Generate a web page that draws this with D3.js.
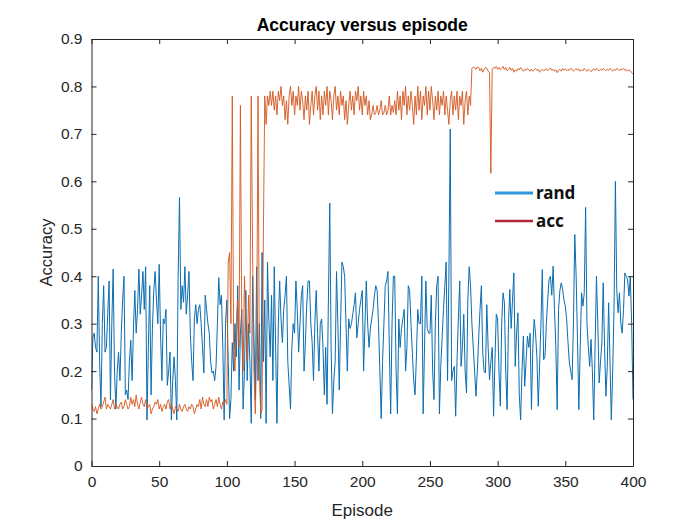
<!DOCTYPE html>
<html>
<head>
<meta charset="utf-8">
<script src="https://cdn.jsdelivr.net/npm/d3@7/dist/d3.min.js"></script>
<style>
  html, body { margin: 0; padding: 0; background: #fff; }
  svg { display: block; }
</style>
</head>
<body>
<svg id="chart" width="700" height="525"></svg>
<script>
// ---------- DATA ----------
const title = "Accuracy versus episode";
const xLabel = "Episode";
const yLabel = "Accuracy";
const xTicks = [0, 50, 100, 150, 200, 250, 300, 350, 400];
const yTicks = [0, 0.1, 0.2, 0.3, 0.4, 0.5, 0.6, 0.7, 0.8, 0.9];
const seriesNames = ["rand", "acc"];

// rand: one value per episode 0..400
const randValues = [
  0.16,0.27,0.28,0.25,0.24,0.40,0.22,0.125,0.30,0.38,
  0.24,0.25,0.32,0.39,0.14,0.30,0.415,0.20,0.12,0.20,
  0.24,0.18,0.28,0.35,0.40,0.15,0.16,0.14,0.22,0.265,
  0.18,0.29,0.37,0.28,0.33,0.415,0.32,0.36,0.41,0.33,
  0.42,0.097,0.25,0.38,0.15,0.29,0.37,0.41,0.35,0.30,
  0.425,0.28,0.18,0.31,0.30,0.33,0.17,0.20,0.24,0.097,
  0.18,0.23,0.18,0.097,0.40,0.566,0.33,0.38,0.345,0.42,
  0.32,0.36,0.41,0.28,0.22,0.18,0.31,0.34,0.30,0.33,
  0.34,0.30,0.25,0.196,0.36,0.33,0.30,0.28,0.22,0.196,
  0.20,0.18,0.21,0.30,0.397,0.34,0.36,0.25,0.097,0.30,
  0.35,0.22,0.10,0.14,0.26,0.20,0.30,0.23,0.38,0.16,
  0.28,0.33,0.12,0.20,0.37,0.18,0.30,0.22,0.09,0.40,
  0.27,0.14,0.42,0.18,0.30,0.10,0.45,0.22,0.35,0.09,
  0.43,0.31,0.23,0.36,0.18,0.42,0.25,0.09,0.30,0.39,
  0.31,0.26,0.33,0.36,0.40,0.22,0.17,0.12,0.25,0.30,
  0.28,0.39,0.33,0.24,0.30,0.36,0.38,0.20,0.26,0.34,
  0.39,0.39,0.30,0.26,0.18,0.30,0.37,0.28,0.20,0.30,
  0.31,0.25,0.15,0.25,0.13,0.35,0.554,0.25,0.11,0.18,
  0.22,0.41,0.30,0.16,0.30,0.43,0.42,0.40,0.30,0.20,
  0.31,0.29,0.30,0.32,0.34,0.365,0.27,0.30,0.33,0.35,
  0.37,0.20,0.30,0.39,0.30,0.25,0.29,0.31,0.33,0.36,
  0.38,0.37,0.30,0.20,0.10,0.22,0.30,0.38,0.39,0.41,
  0.25,0.11,0.30,0.40,0.40,0.20,0.11,0.31,0.25,0.29,
  0.31,0.33,0.20,0.25,0.38,0.37,0.30,0.24,0.18,0.15,
  0.23,0.33,0.30,0.30,0.40,0.11,0.25,0.39,0.29,0.28,
  0.28,0.36,0.20,0.14,0.30,0.38,0.40,0.11,0.21,0.27,
  0.33,0.38,0.43,0.18,0.40,0.71,0.18,0.20,0.21,0.105,
  0.22,0.31,0.39,0.21,0.25,0.32,0.20,0.154,0.35,0.42,
  0.38,0.30,0.25,0.20,0.147,0.20,0.27,0.33,0.38,0.24,
  0.20,0.196,0.34,0.25,0.182,0.22,0.25,0.105,0.22,0.32,
  0.31,0.20,0.126,0.30,0.365,0.344,0.20,0.119,0.30,0.372,
  0.29,0.35,0.407,0.21,0.28,0.323,0.15,0.097,0.20,0.274,
  0.168,0.22,0.274,0.25,0.28,0.119,0.25,0.309,0.28,0.231,
  0.126,0.21,0.30,0.414,0.224,0.231,0.30,0.351,0.393,0.40,
  0.36,0.421,0.33,0.25,0.119,0.33,0.37,0.386,0.372,0.35,
  0.337,0.309,0.26,0.217,0.20,0.182,0.30,0.488,0.40,0.267,
  0.119,0.25,0.365,0.337,0.365,0.545,0.30,0.252,0.21,0.267,
  0.20,0.097,0.252,0.40,0.30,0.175,0.22,0.259,0.386,0.25,
  0.147,0.21,0.344,0.22,0.097,0.20,0.337,0.60,0.372,0.323,
  0.365,0.30,0.28,0.33,0.407,0.40,0.393,0.358,0.40,0.30,
  0.14
];

// acc: one value per episode 0..400
const accValues = [
  0.13,0.12,0.115,0.125,0.11,0.12,0.13,0.12,0.125,0.135,
  0.145,0.12,0.13,0.125,0.12,0.13,0.14,0.12,0.13,0.125,
  0.12,0.13,0.135,0.12,0.125,0.14,0.13,0.12,0.125,0.145,
  0.13,0.14,0.125,0.15,0.13,0.12,0.135,0.145,0.13,0.125,
  0.14,0.12,0.125,0.13,0.11,0.12,0.125,0.135,0.13,0.14,
  0.12,0.13,0.115,0.125,0.13,0.12,0.135,0.14,0.12,0.13,
  0.12,0.11,0.125,0.12,0.115,0.13,0.12,0.115,0.125,0.13,
  0.12,0.115,0.125,0.12,0.13,0.125,0.11,0.12,0.13,0.125,
  0.14,0.12,0.145,0.13,0.125,0.14,0.125,0.145,0.135,0.14,
  0.12,0.13,0.14,0.125,0.145,0.13,0.12,0.135,0.13,0.14,
  0.13,0.43,0.45,0.30,0.78,0.25,0.20,0.30,0.35,0.25,
  0.76,0.30,0.20,0.40,0.30,0.22,0.36,0.28,0.78,0.45,
  0.20,0.11,0.25,0.78,0.20,0.11,0.12,0.50,0.78,0.72,
  0.78,0.76,0.79,0.76,0.79,0.75,0.78,0.74,0.79,0.77,
  0.80,0.76,0.78,0.73,0.77,0.72,0.78,0.80,0.76,0.79,
  0.74,0.78,0.76,0.80,0.75,0.79,0.77,0.73,0.78,0.75,
  0.79,0.72,0.76,0.79,0.74,0.78,0.80,0.75,0.79,0.73,
  0.78,0.74,0.79,0.76,0.80,0.74,0.79,0.77,0.73,0.78,
  0.80,0.75,0.78,0.74,0.79,0.76,0.78,0.73,0.77,0.72,
  0.76,0.79,0.75,0.78,0.74,0.79,0.77,0.80,0.75,0.78,
  0.74,0.79,0.76,0.78,0.74,0.77,0.73,0.74,0.76,0.74,
  0.745,0.76,0.74,0.75,0.77,0.74,0.745,0.76,0.74,0.75,
  0.78,0.74,0.76,0.745,0.77,0.74,0.79,0.75,0.78,0.73,
  0.79,0.76,0.80,0.74,0.78,0.75,0.79,0.76,0.72,0.78,
  0.74,0.80,0.75,0.79,0.73,0.78,0.76,0.80,0.74,0.79,
  0.75,0.80,0.77,0.73,0.78,0.75,0.79,0.74,0.78,0.76,
  0.79,0.74,0.78,0.75,0.72,0.77,0.79,0.74,0.78,0.75,
  0.79,0.73,0.78,0.76,0.79,0.72,0.77,0.79,0.74,0.78,
  0.76,0.838,0.841,0.84,0.836,0.841,0.84,0.833,0.838,0.83,
  0.836,0.84,0.838,0.832,0.83,0.617,0.836,0.84,0.838,0.842,
  0.836,0.84,0.835,0.838,0.842,0.836,0.84,0.833,0.836,0.84,
  0.834,0.838,0.83,0.835,0.832,0.838,0.835,0.84,0.836,0.832,
  0.836,0.834,0.838,0.835,0.832,0.836,0.832,0.835,0.838,0.834,
  0.836,0.83,0.834,0.836,0.833,0.835,0.837,0.833,0.836,0.839,
  0.834,0.836,0.832,0.835,0.829,0.834,0.836,0.832,0.838,0.834,
  0.837,0.833,0.836,0.834,0.838,0.836,0.832,0.835,0.838,0.834,
  0.837,0.832,0.835,0.833,0.838,0.835,0.832,0.836,0.834,0.831,
  0.835,0.837,0.834,0.838,0.835,0.833,0.836,0.834,0.838,0.836,
  0.833,0.836,0.834,0.838,0.835,0.832,0.836,0.834,0.838,0.836,
  0.833,0.837,0.835,0.838,0.834,0.836,0.832,0.835,0.833,0.829,
  0.826
];

// ---------- LAYOUT ----------
const svg = d3.select("#chart");
const pLeft = 91.5, pRight = 633, pTop = 39, pBottom = 466;
const textColor = "#262626";
const fontFamily = "'Liberation Sans', Arial, Helvetica, sans-serif";

const x = d3.scaleLinear().domain([0, 400]).range([pLeft, pRight]);
const y = d3.scaleLinear().domain([0, 0.9]).range([pBottom, pTop]);

svg.append("rect").attr("x", pLeft).attr("y", pTop)
  .attr("width", pRight - pLeft).attr("height", pBottom - pTop).attr("fill", "#fff");

svg.append("clipPath").attr("id", "clip")
  .append("rect").attr("x", pLeft).attr("y", pTop).attr("width", pRight - pLeft).attr("height", pBottom - pTop);

const line = d3.line().x((d, i) => x(i)).y(d => y(d));
const plotG = svg.append("g").attr("clip-path", "url(#clip)");
plotG.append("path").datum(randValues)
  .attr("d", line).attr("fill", "none")
  .attr("stroke", "#0B6DB0").attr("stroke-width", 1).attr("stroke-linejoin", "round");
plotG.append("path").datum(accValues)
  .attr("d", line).attr("fill", "none")
  .attr("stroke", "#D4561E").attr("stroke-width", 0.9).attr("stroke-linejoin", "round");

// axes (MATLAB style: ticks inward, box on)
const tickLen = 5;
const xAxisB = d3.axisBottom(x).tickValues(xTicks).tickSizeInner(-tickLen).tickSizeOuter(0).tickPadding(10).tickFormat(d3.format("d"));
const xAxisT = d3.axisTop(x).tickValues(xTicks).tickSizeInner(-tickLen).tickSizeOuter(0).tickFormat("");
const yAxisL = d3.axisLeft(y).tickValues(yTicks).tickSizeInner(-tickLen).tickSizeOuter(0).tickPadding(9).tickFormat(d => d === 0 ? "0" : d3.format(".1f")(d));
const yAxisR = d3.axisRight(y).tickValues(yTicks).tickSizeInner(-tickLen).tickSizeOuter(0).tickFormat("");

function style(g) {
  g.selectAll(".domain").attr("stroke", textColor).attr("stroke-width", 1);
  g.selectAll(".tick line").attr("stroke", textColor).attr("stroke-width", 1);
  g.selectAll(".tick text").attr("fill", textColor).attr("font-size", 15.5).attr("font-family", fontFamily);
}
svg.append("g").attr("transform", `translate(0,${pBottom})`).call(xAxisB).call(style);
svg.append("g").attr("transform", `translate(0,${pTop})`).call(xAxisT).call(style);
svg.append("g").attr("transform", `translate(${pLeft},0)`).call(yAxisL).call(style);
svg.append("g").attr("transform", `translate(${pRight},0)`).call(yAxisR).call(style);

// title & labels
svg.append("text").attr("x", (pLeft + pRight) / 2).attr("y", 31)
  .attr("text-anchor", "middle").attr("font-family", fontFamily)
  .attr("font-weight", "bold").attr("font-size", 17.5).attr("fill", "#000")
  .text(title);
svg.append("text").attr("x", (pLeft + pRight) / 2).attr("y", 516)
  .attr("text-anchor", "middle").attr("font-family", fontFamily)
  .attr("font-size", 17).attr("fill", textColor).text(xLabel);
svg.append("text").attr("transform", `translate(52,${(pTop + pBottom) / 2}) rotate(-90)`)
  .attr("text-anchor", "middle").attr("font-family", fontFamily)
  .attr("font-size", 16.5).attr("fill", textColor).text(yLabel);

// legend (no box)
const legendColors = ["#2E98DA", "#B3253A"];
const legendWidths = [3, 2.5];
const legendY = [193, 221];
const lg = svg.append("g");
seriesNames.forEach((name, i) => {
  lg.append("line").attr("x1", 495).attr("x2", 533)
    .attr("y1", legendY[i]).attr("y2", legendY[i])
    .attr("stroke", legendColors[i]).attr("stroke-width", legendWidths[i]);
  lg.append("text").attr("x", 536).attr("y", legendY[i] + 6)
    .attr("font-family", "'Noto Sans', 'Open Sans', sans-serif")
    .attr("font-weight", "bold").attr("font-size", 17).attr("fill", "#111")
    .text(name);
});
</script>
</body>
</html>
